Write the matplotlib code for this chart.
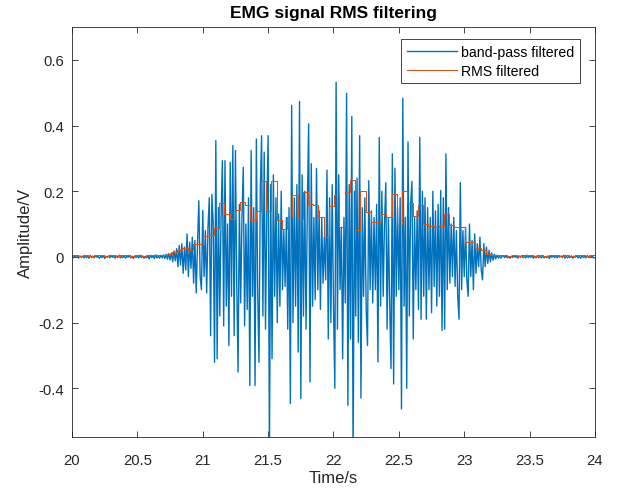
import numpy as np
import matplotlib.pyplot as plt
from matplotlib import rcParams

rcParams['font.family'] = ['Liberation Sans', 'DejaVu Sans']
rcParams['axes.unicode_minus'] = False

# band-pass filtered EMG, sampled every 10 ms from 20 s to 24 s
emg = [
    0.002, -0.003, 0.004, -0.002, 0.001, -0.004, 0.003, -0.001, 0.002, -0.003,
    0.003, -0.002, 0.001, -0.004, 0.005, -0.002, 0.002, -0.003, 0.004, -0.001,
    0.001, -0.004, 0.003, -0.002, 0.004, -0.005, 0.002, -0.001, 0.003, -0.003,
    0.004, -0.001, 0.002, -0.004, 0.003, -0.002, 0.005, -0.003, 0.001, -0.002,
    0.003, -0.004, 0.002, -0.001, 0.004, -0.003, 0.002, -0.005, 0.003, -0.002,
    0.002, -0.003, 0.005, -0.002, 0.003, -0.004, 0.001, -0.003, 0.004, -0.006,
    0.004, -0.002, 0.003, -0.005, 0.006, -0.003, 0.002, -0.004, 0.005, -0.003,
    0.006, -0.005, 0.008, -0.007, 0.010, -0.009, 0.012, -0.015, 0.018, -0.012,
    0.025, -0.030, 0.035, -0.025, 0.040, -0.050, 0.030, -0.040, 0.070, -0.060,
    0.045, -0.035, 0.060, -0.080, 0.050, -0.110, 0.040, 0.171, -0.060, -0.100,
    0.141, -0.060, 0.080, -0.110, 0.090, 0.180, -0.240, 0.190, 0.100, -0.321,
    0.354, -0.310, 0.150, -0.180, 0.120, 0.293, -0.210, 0.293, -0.150, 0.100,
    -0.270, 0.288, -0.120, 0.339, -0.240, 0.324, -0.080, -0.351, 0.160, -0.140,
    0.120, 0.273, -0.210, 0.100, -0.160, 0.180, -0.392, 0.324, -0.120, 0.150,
    -0.392, 0.359, -0.100, -0.321, 0.200, 0.369, -0.180, 0.319, -0.220, 0.140,
    0.369, -0.600, 0.220, -0.310, 0.250, -0.120, 0.180, -0.200, 0.130, -0.150,
    0.200, -0.100, 0.080, -0.090, 0.120, -0.220, 0.150, -0.447, 0.461, -0.200,
    0.180, -0.150, 0.220, -0.290, 0.473, -0.432, 0.250, -0.180, 0.200, -0.220,
    0.160, 0.405, -0.381, 0.284, -0.150, 0.120, -0.130, 0.269, -0.100, 0.140,
    -0.160, 0.120, -0.080, 0.060, -0.070, 0.264, -0.250, 0.180, -0.200, 0.220,
    -0.150, -0.400, 0.532, -0.220, 0.250, -0.100, 0.090, -0.310, 0.120, -0.140,
    0.498, -0.452, 0.220, -0.250, 0.428, -0.620, 0.200, -0.180, 0.240, -0.260,
    0.369, -0.430, 0.150, -0.120, 0.180, -0.160, -0.270, 0.232, -0.100, 0.140,
    -0.140, 0.120, -0.100, 0.160, -0.320, 0.364, -0.150, 0.200, -0.120, 0.100,
    0.226, -0.220, 0.120, -0.150, -0.340, 0.314, -0.387, 0.270, -0.120, 0.150,
    -0.100, 0.180, -0.463, 0.483, -0.150, 0.120, -0.400, 0.350, -0.180, 0.160,
    0.230, -0.250, 0.120, -0.100, 0.140, -0.160, 0.364, -0.190, 0.200, -0.120,
    0.180, -0.190, 0.150, -0.100, 0.120, -0.170, 0.200, -0.090, 0.140, -0.150,
    0.160, -0.120, 0.202, -0.224, 0.180, -0.220, 0.314, -0.100, 0.150, -0.080,
    0.100, -0.060, 0.120, -0.090, 0.080, -0.120, -0.190, 0.226, -0.100, 0.080,
    -0.060, 0.090, -0.070, -0.120, 0.100, -0.060, 0.050, -0.100, 0.070, -0.050,
    0.040, -0.030, 0.060, -0.040, -0.070, 0.040, -0.030, 0.030, -0.020, 0.020,
    -0.015, 0.012, -0.010, 0.008, -0.006, 0.005, -0.004, 0.003, -0.004, 0.002,
    0.003, -0.002, 0.004, -0.003, 0.001, -0.004, 0.002, -0.002, 0.003, -0.001,
    0.002, -0.004, 0.003, -0.001, 0.004, -0.002, 0.001, -0.003, 0.005, -0.002,
    0.003, -0.001, 0.002, -0.004, 0.002, -0.003, 0.004, -0.002, 0.001, -0.003,
    0.004, -0.003, 0.001, -0.002, 0.003, -0.005, 0.002, -0.001, 0.004, -0.002,
    0.002, -0.003, 0.004, -0.001, 0.003, -0.002, 0.005, -0.004, 0.002, -0.003,
    0.001, -0.002, 0.003, -0.004, 0.002, -0.001, 0.004, -0.003, 0.002, -0.004,
    0.003, -0.002, 0.001, -0.003, 0.004, -0.002, 0.003, -0.001, 0.002, -0.003,
]
t_emg = 20 + 0.01 * np.arange(len(emg))

# RMS over 40 ms windows
rms = [
    0.005, 0.004, 0.005, 0.004, 0.005, 0.005, 0.004, 0.005, 0.004, 0.005,
    0.005, 0.004, 0.005, 0.004, 0.005, 0.005, 0.006, 0.006, 0.008, 0.016,
    0.021, 0.026, 0.020, 0.038, 0.040, 0.065, 0.066, 0.088, 0.164, 0.131,
    0.116, 0.144, 0.168, 0.158, 0.113, 0.141, 0.232, 0.141, 0.232, 0.113,
    0.085, 0.121, 0.189, 0.114, 0.199, 0.161, 0.158, 0.121, 0.060, 0.154,
    0.189, 0.090, 0.197, 0.235, 0.083, 0.200, 0.138, 0.107, 0.107, 0.131,
    0.121, 0.192, 0.097, 0.202, 0.164, 0.126, 0.158, 0.100, 0.095, 0.090,
    0.095, 0.131, 0.097, 0.092, 0.090, 0.045, 0.045, 0.026, 0.022, 0.008,
    0.006, 0.005, 0.005, 0.004, 0.005, 0.004, 0.005, 0.005, 0.004, 0.005,
    0.004, 0.005, 0.005, 0.004, 0.005, 0.004, 0.005, 0.005, 0.004, 0.005,
]
t_rms = 20.005 + 0.04 * np.arange(len(rms) + 1)

xticks = [20, 20.5, 21, 21.5, 22, 22.5, 23, 23.5, 24]
xticklabels = ['20', '20.5', '21', '21.5', '22', '22.5', '23', '23.5', '24']
yticks = [-0.4, -0.2, 0, 0.2, 0.4, 0.6]
yticklabels = ['-0.4', '-0.2', '0', '0.2', '0.4', '0.6']

axc = '#262626'
fig = plt.figure(figsize=(6.24, 4.89), dpi=100)
ax = fig.add_axes([0.1154, 0.1033, 0.8381, 0.8394])

ax.plot(t_emg, emg, color='#0072BD', lw=1.0, label='band-pass filtered')
ax.step(t_rms, rms + [rms[-1]], where='post', color='#D95319', lw=0.75,
        label='RMS filtered')

ax.set_xlim(20, 24)
ax.set_ylim(-0.55, 0.7)
ax.set_xticks(xticks, xticklabels)
ax.set_yticks(yticks, yticklabels)
ax.tick_params(direction='in', top=True, right=True, length=4, width=0.6,
               colors=axc, labelsize=10.7)
ax.tick_params(axis='x', pad=11)
ax.tick_params(axis='y', pad=6)
for s in ax.spines.values():
    s.set_color(axc)
    s.set_linewidth(0.6)

ax.set_xlabel('Time/s', fontsize=12, color=axc, labelpad=2)
ax.set_ylabel('Amplitude/V', fontsize=12, color=axc)
ax.set_title('EMG signal RMS filtering', fontsize=12.5, fontweight='bold',
             color='black', pad=7.5)

leg = ax.legend(loc='upper right', bbox_to_anchor=(0.971, 0.971), borderaxespad=0,
                fontsize=10.2, fancybox=False, framealpha=1, edgecolor=axc,
                handlelength=3.5, handletextpad=0.3, borderpad=0.4,
                labelspacing=0.35)
leg.get_frame().set_linewidth(0.6)

plt.savefig('out.png', dpi=100)
